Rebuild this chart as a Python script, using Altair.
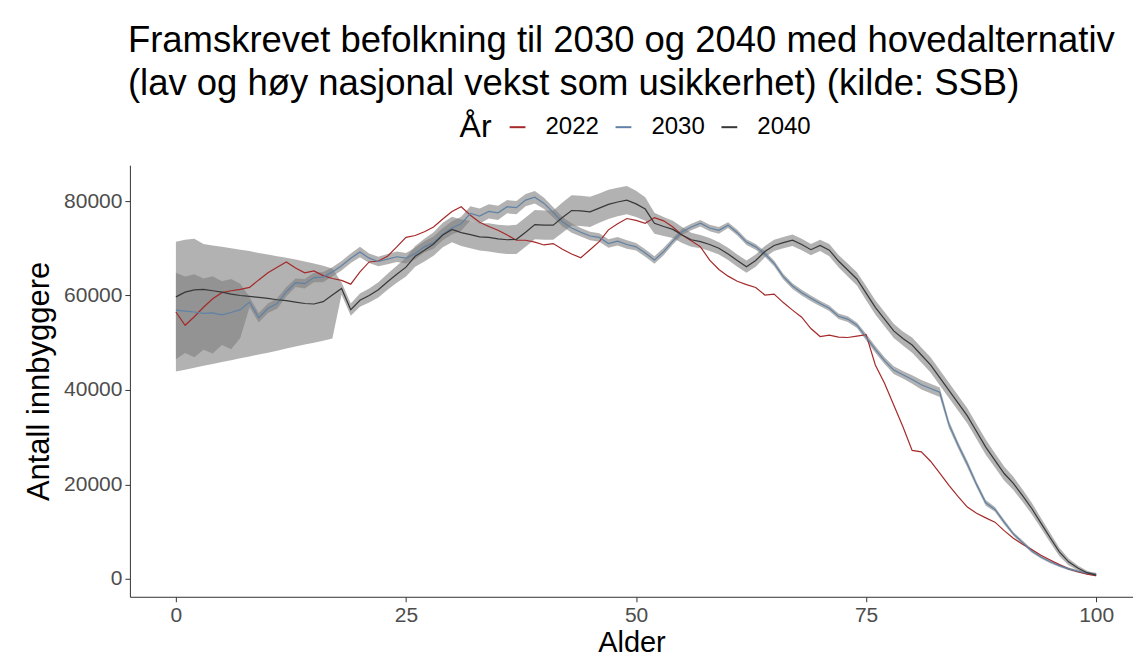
import altair as alt
import pandas as pd

alder = list(range(101))
aar_navn = ["2022", "2030", "2040"]
farger = ["#a52a2a", "#5f82a6", "#383838"]

v2022 = [56500, 53700, 55500, 57500, 59300, 60600, 61000, 61300, 61700, 63300,
         64800, 66000, 67100, 65800, 64800, 65200, 64200, 63600, 63200, 62400,
         65000, 67100, 67300, 68300, 70300, 72300, 72700, 73500, 74500, 76200,
         77800, 78800, 77000, 75500, 74600, 73800, 72800, 71700, 71700, 71300,
         70700, 71000, 69800, 68800, 68000, 69700, 71400, 73900, 75200, 76300,
         75900, 75300, 76500, 75800, 74500, 72800, 71600, 70300, 67500, 65500,
         64100, 63000, 62300, 61700, 60100, 60300, 58500, 56900, 55400, 53000,
         51300, 51600, 51200, 51100, 51400, 51700, 45300, 41400, 36800, 32200,
         27200, 26900, 24900, 22400, 19800, 17400, 15200, 13900, 12900, 12000,
         10200, 8600, 7300, 6200, 5000, 4000, 3000, 2100, 1500, 1000,
         650]

v2030 = [56900, 56700, 56500, 56200, 56300, 55900, 56400, 57000, 58600, 55300,
         57300, 58300, 60800, 62700, 62500, 63800, 63900, 65000, 66300, 67900,
         69200, 67900, 67200, 67700, 68200, 67900, 68900, 70300, 71200, 73000,
         74300, 75200, 77400, 76800, 77800, 77500, 78800, 78600, 80200, 80800,
         79500, 77600, 75600, 74300, 73400, 72600, 72300, 71000, 71500, 70800,
         70300, 69000, 67500, 69300, 71500, 73500, 74500, 75300, 74300, 73800,
         74900, 73300, 71300, 70300, 68800, 66800, 64000, 62000, 60600, 59400,
         58300, 57300, 55600, 55000, 53700, 51200, 48600, 46200, 44200, 43200,
         42200, 41100, 40300, 39500, 32700, 28300, 24300, 20000, 16100, 14700,
         12000, 9500, 7700, 5900, 4600, 3600, 2800, 2100, 1600, 1200,
         1000]

v2040 = [59700, 60700, 61200, 61300, 61000, 60700, 60300, 60000, 59800, 59600,
         59400, 59100, 58900, 58600, 58300, 58200, 58700, 60100, 61500, 57000,
         59000, 60000, 61200, 62900, 64500, 66000, 68300, 69600, 70900, 72800,
         74000, 73300, 72900, 72400, 72300, 72000, 71800, 71900, 73400, 75000,
         74900, 74900, 76500, 78000, 77900, 77700, 78500, 79300, 79800, 80200,
         79400, 78300, 75300, 74600, 74000, 72800, 71800, 71400, 70800, 70000,
         68800, 67400, 66100, 67400, 69300, 70600, 71200, 71700, 70800, 69700,
         70600, 69600, 67300, 65400, 63500, 60500, 57500, 55000, 52500, 50900,
         49500, 47400, 45300, 42600, 39900, 37200, 34500, 31200, 27900, 25100,
         22300, 20200, 17600, 14900, 11800, 8700, 5700, 3600, 2300, 1300,
         800]

# distance from the line down to the low alternative / up to the high alternative
ned_2030 = [10400, 8900, 9600, 7700, 8600, 6400, 7800, 6000,
            1100, 1000, 1000, 1100, 1000, 900, 1000, 1000, 1100, 1000, 1000,
            1000, 1100, 1000, 1000, 1100, 1100, 1100, 1200, 1200, 1300, 1300,
            1400, 1500, 1500, 1600, 1500, 1500, 1400, 1400, 1300, 1300, 1200, 1100,
            1000, 1000, 900, 900, 900, 900, 900, 900, 800, 800, 800,
            800, 700, 700, 700, 700, 700, 700,
            600, 600, 600, 600, 600, 600, 600, 600, 600, 600, 600, 600, 600,
            600, 600, 700, 700, 700, 800, 800,
            900, 1000, 1000, 1000, 800, 700, 700, 600, 600, 500,
            500, 400, 400, 400, 300, 300, 300, 300, 300, 300, 300]
opp_2030 = [7900, 7300, 8000, 7400, 7800, 7100, 7100, 5500] + ned_2030[8:]

ned_2040 = [15800, 16400, 16500, 16200, 15500, 14800, 14000, 13300, 12700,
            12100, 11500, 10800, 10100, 9400, 8700, 8200, 8300, 9200,
            1300, 1300, 1400, 1500, 1600, 1700, 1800, 2000,
            2200, 2400, 2500, 2600,
            2700, 2800, 2900, 2900, 3000, 3000,
            3000, 3100, 3100, 3100, 3100, 3100, 3200, 3200, 3200, 3200, 3100,
            3100, 3000, 3000, 2800,
            2500, 2200, 2000, 1800, 1700,
            1500, 1400, 1400, 1300, 1300, 1300, 1300, 1300, 1200, 1200, 1200,
            1200, 1200, 1200, 1200, 1300, 1300, 1400, 1400, 1500,
            1500, 1500, 1500, 1500, 1600, 1600, 1600, 1600, 1600, 1600, 1600,
            1600, 1600, 1500, 1500, 1400, 1300, 1200, 1100, 1000,
            900, 700, 500, 400, 300]
opp_2040 = [11700, 11100, 10800, 9600, 9600, 9600, 9700, 9700, 9600,
            9400, 9300, 9200, 9100, 9000, 8900, 8600, 7600, 5600] + ned_2040[18:]

linjer = []
for navn, verdier in zip(aar_navn, [v2022, v2030, v2040]):
    for a, v in zip(alder, verdier):
        linjer.append({"alder": a, "antall": v, "aar": navn})
df_linje = pd.DataFrame(linjer)

baand = []
for navn, verdier, ned, opp in [("2030", v2030, ned_2030, opp_2030),
                                ("2040", v2040, ned_2040, opp_2040)]:
    for a, v, n, o in zip(alder, verdier, ned, opp):
        baand.append({"alder": a, "lav": v - n, "hoy": v + o, "aar": navn})
df_baand = pd.DataFrame(baand)

FONT = "Liberation Sans"

x_enc = alt.X("alder:Q",
              scale=alt.Scale(domain=[-5, 104], nice=False, zero=False),
              axis=alt.Axis(values=[0, 25, 50, 75, 100], title="Alder", format="d",
                            titlePadding=3))
y_scale = alt.Scale(domain=[-3800, 87600], nice=False, zero=False)
y_axis = alt.Axis(values=[0, 20000, 40000, 60000, 80000], title="Antall innbyggere",
                  format="d", titlePadding=8, titleFontSize=31)

omraade = alt.Chart(df_baand).mark_area(color="#7f7f7f", opacity=0.6).encode(
    x=x_enc,
    y=alt.Y("lav:Q", scale=y_scale, axis=y_axis),
    y2="hoy:Q",
    detail="aar:N",
)

linje = alt.Chart(df_linje).mark_line(strokeWidth=1.2).encode(
    x=x_enc,
    y=alt.Y("antall:Q", scale=y_scale, axis=y_axis),
    color=alt.Color("aar:N",
                    scale=alt.Scale(domain=aar_navn, range=farger),
                    legend=alt.Legend(title="År", orient="none", legendX=330, legendY=-50,
                                      direction="horizontal", titleOrient="left",
                                      symbolType="stroke", symbolStrokeWidth=2,
                                      symbolSize=250, labelOffset=16, columnPadding=12,
                                      titlePadding=14, titleFontSize=32,
                                      titleFontWeight="normal", labelFontSize=24,
                                      titleFont=FONT, labelFont=FONT,
                                      titleColor="black", labelColor="black")),
)

chart = alt.layer(omraade, linje).properties(
    width=1004,
    height=432,
    autosize=alt.AutoSizeParams(type="none"),
    padding={"left": 122, "top": 157, "right": 0, "bottom": 67},
    title=alt.TitleParams(
        ["Framskrevet befolkning til 2030 og 2040 med hovedalternativ",
         "(lav og høy nasjonal vekst som usikkerhet) (kilde: SSB)"],
        anchor="start", frame="group", fontSize=36.5, fontWeight="normal",
        font=FONT, color="black", offset=13, lineHeight=43, dx=-2),
).configure_view(stroke=None).configure_axis(
    grid=False,
    domainColor="#333333",
    tickColor="#333333",
    tickSize=5,
    labelColor="#4d4d4d",
    labelFontSize=21,
    labelFont=FONT,
    titleFont=FONT,
    titleFontSize=29,
    titleFontWeight="normal",
    titleColor="black",
    labelPadding=3,
)

chart.save("out.html", embed_options={"renderer": "svg", "actions": False})
